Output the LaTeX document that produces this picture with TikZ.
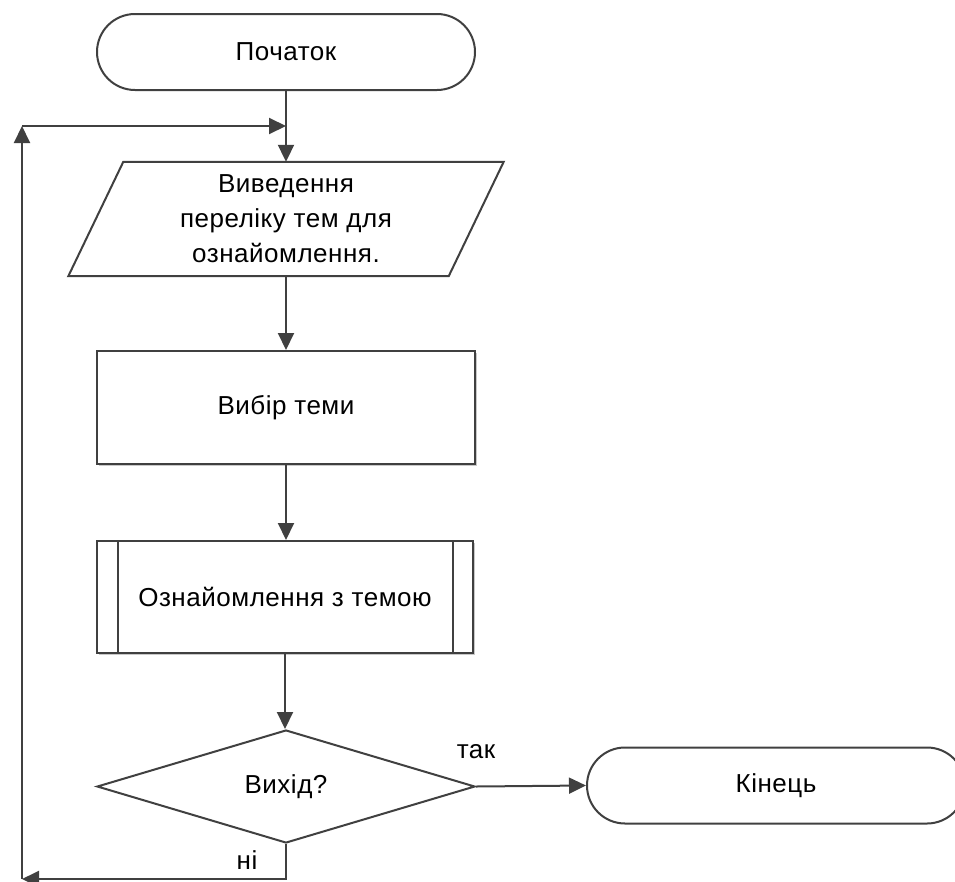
\documentclass[tikz,border=0pt]{standalone}
\usepackage{fontspec}
\setmainfont{Liberation Sans}[LetterSpace=2]
\usetikzlibrary{arrows.meta,shapes.geometric,shadows}
\definecolor{ln}{HTML}{404040}
\definecolor{shd}{HTML}{C8C8C8}
\tikzset{
  base/.style={draw=ln, line width=2pt, fill=white, inner sep=0pt, align=center},
  term/.style={base, rounded corners=38pt, minimum width=378pt, minimum height=76pt},
  procbox/.style={base, minimum width=378pt, minimum height=113pt,
    drop shadow={shadow xshift=2pt, shadow yshift=-2pt, fill=shd, opacity=1}},
  decbox/.style={base, diamond, minimum width=378pt, minimum height=113pt},
  arr/.style={draw=ln, line width=2pt, -{Triangle[length=17pt,width=16pt]}},
  lbl/.style={inner sep=0pt}
}
\begin{document}
\begin{tikzpicture}[x=1pt,y=-1pt,font=\fontsize{26pt}{35pt}\selectfont]
\useasboundingbox (0,0) rectangle (955,881);
% start
\node[term] (start) at (286,52) {Початок};
% input/output
\node[inner sep=0pt, minimum width=380pt, minimum height=114pt, align=center] (io) at (286,219)
  {Виведення\\переліку тем для\\ознайомлення.};
\draw[ln, line width=2pt, fill=white]
  ([xshift=27.5pt]io.north west) -- ([xshift=27.5pt]io.north east)
  -- ([xshift=-27.5pt]io.south east) -- ([xshift=-27.5pt]io.south west) -- cycle;
\node[align=center, inner sep=0pt] at (io.center) {Виведення\\переліку тем для\\ознайомлення.};
% process
\node[procbox] (proc) at (286,407.5) {Вибір теми};
% predefined process
\node[procbox, minimum width=376pt, minimum height=112pt] (pp) at (285,597) {Ознайомлення з темою};
\draw[ln, line width=2pt] ([xshift=22pt]pp.north west) -- ([xshift=22pt]pp.south west);
\draw[ln, line width=2pt] ([xshift=-21pt]pp.north east) -- ([xshift=-21pt]pp.south east);
% decision
\node[decbox] (dec) at (286,786.5) {Вихід?};
% end
\node[term] (end) at (776,785.5) {Кінець};
% labels
\node[lbl] (yes) at (476,752) {так};
\node[lbl] (no) at (247,860) {ні};
% loop coordinates
\coordinate (lb) at (22,879);
\coordinate (lt) at (22,126);
\coordinate (j) at (286,126);
% connectors
\draw[arr] (start.south) -- (start.south |- io.north);
\draw[arr] (io.south) -- (proc.north);
\draw[arr] (proc.south) -- (proc.south |- pp.north);
\draw[arr] (pp.south) -- (pp.south |- dec.north);
\draw[arr] (dec.east) -- (end.west);
\draw[arr] (dec.south) |- (lb);
\draw[arr] (lb) -- (lt);
\draw[arr] (lt) -- (j);
\end{tikzpicture}
\end{document}
